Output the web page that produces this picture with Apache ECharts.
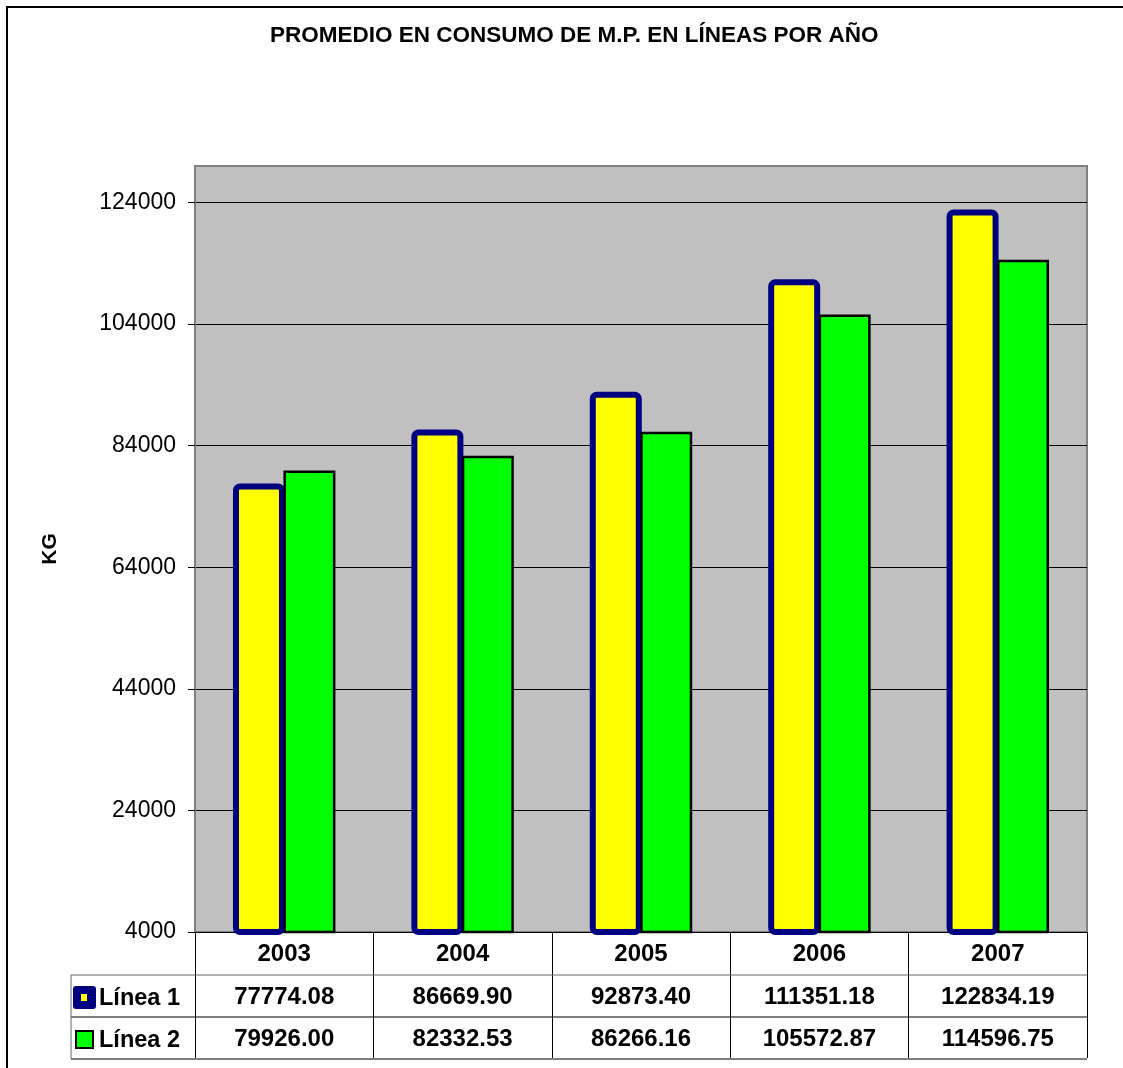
<!DOCTYPE html>
<html><head><meta charset="utf-8">
<script src="https://cdn.jsdelivr.net/npm/echarts@6/dist/echarts.min.js"></script>
<style>html,body{margin:0;padding:0;background:#fff}#c{width:1123px;height:1068px}</style>
</head><body><div id="c"></div>
<script>
const years = ['2003','2004','2005','2006','2007'];
const linea1 = [77774.08, 86669.90, 92873.40, 111351.18, 122834.19];
const linea2 = [79926.00, 82332.53, 86266.16, 105572.87, 114596.75];
const seriesNames = ['Línea 1','Línea 2'];
const yTicks = {min:4000, max:130000, interval:20000};
const FONT = '"Liberation Sans", Arial, sans-serif';

const chart = echarts.init(document.getElementById('c'), null, {renderer:'canvas'});
chart.setOption({
  animation:false,
  backgroundColor:'#fff',
  title:{text:'PROMEDIO EN CONSUMO DE M.P. EN LÍNEAS POR AÑO', left:265, top:19,
    textStyle:{fontFamily:FONT, fontWeight:'bold', fontSize:22.5, color:'#000'}},
  grid:{left:195, right:36, top:166, bottom:136, show:true, backgroundColor:'#c0c0c0', borderColor:'#808080', borderWidth:2},
  xAxis:{type:'category', data:years,
    axisLine:{show:true, lineStyle:{color:'#000', width:1}},
    axisTick:{show:true, length:126, lineStyle:{color:'#000', width:1}},
    axisLabel:{fontFamily:FONT, fontWeight:'bold', fontSize:24, color:'#000', margin:10}},
  yAxis:{type:'value', min:yTicks.min, max:yTicks.max, interval:yTicks.interval,
    name:'KG', nameLocation:'middle', nameGap:134, nameRotate:90,
    nameTextStyle:{fontFamily:FONT, fontWeight:'bold', fontSize:21, color:'#000'},
    axisLine:{show:true, lineStyle:{color:'#808080', width:2}},
    axisTick:{show:true, length:7, lineStyle:{color:'#000'}},
    axisLabel:{fontFamily:FONT, fontSize:23, color:'#000', margin:19, showMaxLabel:false,
      formatter:(v)=>String(v)},
    splitLine:{show:true, lineStyle:{color:'#000', width:1}}},
  series:[
    {name:seriesNames[0], type:'bar', data:linea1, barWidth:52, barGap:'-3%',
      itemStyle:{color:'#ffff00', borderColor:'#000080', borderWidth:6, borderRadius:4}},
    {name:seriesNames[1], type:'bar', data:linea2, barWidth:52,
      itemStyle:{color:'#00ff00', borderColor:'#000', borderWidth:2.5}}
  ]
});

// data table under the plot
const yBase = chart.convertToPixel({yAxisIndex:0}, yTicks.min);
const yTop = chart.convertToPixel({yAxisIndex:0}, yTicks.max);
const xs = years.map((y)=>chart.convertToPixel({xAxisIndex:0}, y));
const catW = xs[1]-xs[0];
const xLeft = xs[0]-catW/2, xRight = xs[xs.length-1]+catW/2;
const rowH = 42;
const r1 = yBase+43, r2 = r1+rowH, r3 = r2+rowH;
const labelLeft = 71;
const g = [];
const line = (x1,y1,x2,y2,c,w)=>g.push({type:'line', shape:{x1,y1,x2,y2}, style:{stroke:c||'#000', lineWidth:w||1}, z:10});
line(xLeft, yTop, xRight, yTop, '#808080', 2);
line(labelLeft, r1, xRight, r1, '#666');
line(labelLeft, r2, xRight, r2);
line(labelLeft, r3, xRight, r3);
line(labelLeft, r1, labelLeft, r3, '#666');
[linea1, linea2].forEach((arr, ri)=>{
  const cy = ri===0 ? (r1+r2)/2 : (r2+r3)/2;
  arr.forEach((v,i)=>{
    g.push({type:'text', x:xs[i], y:cy+1, style:{text:v.toFixed(2), fontFamily:FONT, fontWeight:'bold', fontSize:24, fill:'#000', align:'center', verticalAlign:'middle'}, z:10});
  });
  g.push({type:'text', x:labelLeft+28, y:cy+3, style:{text:seriesNames[ri], fontFamily:FONT, fontWeight:'bold', fontSize:23.5, fill:'#000', align:'left', verticalAlign:'middle'}, z:10});
});
// legend keys
const k1y = (r1+r2)/2;
g.push({type:'rect', shape:{x:labelLeft+2, y:k1y-10, width:23, height:23, r:3}, style:{fill:'#000080'}, z:10});
g.push({type:'rect', shape:{x:labelLeft+10, y:k1y-2, width:6, height:7}, style:{fill:'#ffff00'}, z:11});
const k2y = (r2+r3)/2;
g.push({type:'rect', shape:{x:labelLeft+5, y:k2y-7, width:17, height:17}, style:{fill:'#00ff00', stroke:'#000', lineWidth:2}, z:10});
// outer chart frame
g.push({type:'rect', shape:{x:7, y:7, width:1300, height:1300}, style:{fill:'none', stroke:'#000', lineWidth:2}, z:0, silent:true});
chart.setOption({graphic:g});
</script></body></html>
